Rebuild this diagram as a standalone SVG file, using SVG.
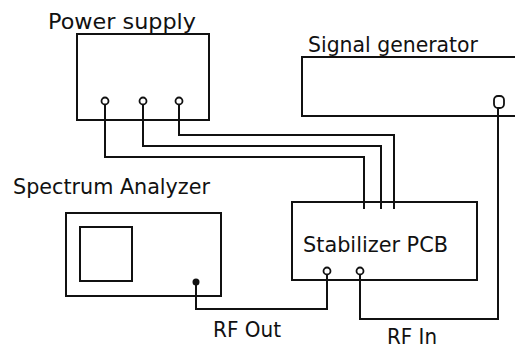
<svg xmlns="http://www.w3.org/2000/svg" width="515" height="349" viewBox="0 0 515 349">
<style>
.box{fill:none;stroke:#111;stroke-width:2}
.w{fill:none;stroke:#111;stroke-width:2}
.t{fill:none;stroke:#111;stroke-width:1.8}
.lbl{font-family:"DejaVu Sans",sans-serif;font-size:22px;fill:#111}
</style>
<rect width="515" height="349" fill="#fff"/>
<g id="connectors">
<polyline class="w" points="105,104 105,157 364,157 364,209"/>
<polyline class="w" points="143,104 143,146 381,146 381,209"/>
<polyline class="w" points="179,104 179,135 394,135 394,209"/>
<polyline class="w" points="196,282 196,309 327,309 327,274"/>
<polyline class="w" points="360,274 360,319 498,319 498,107"/>
<text class="lbl" x="213" y="337" textLength="68" lengthAdjust="spacingAndGlyphs">RF Out</text>
<text class="lbl" x="387" y="344" font-size="21" textLength="50" lengthAdjust="spacingAndGlyphs">RF In</text>
</g>
<g id="power-supply">
<rect class="box" x="77" y="34" width="132" height="86"/>
<circle class="t" cx="105" cy="101" r="3.5"/>
<circle class="t" cx="143" cy="101" r="3.5"/>
<circle class="t" cx="179" cy="101" r="3.5"/>
<text class="lbl" x="48" y="29" textLength="148" lengthAdjust="spacingAndGlyphs">Power supply</text>
</g>
<g id="signal-generator">
<rect class="box" x="302" y="57" width="220" height="59"/>
<rect class="t" x="494" y="96" width="10" height="12" rx="4"/>
<text class="lbl" x="308" y="52" textLength="170" lengthAdjust="spacingAndGlyphs">Signal generator</text>
</g>
<g id="spectrum-analyzer">
<rect class="box" x="66" y="213" width="155" height="83"/>
<rect class="box" x="80" y="227" width="52" height="54"/>
<circle cx="196" cy="282" r="3.5" fill="#111"/>
<text class="lbl" x="13" y="194" textLength="197" lengthAdjust="spacingAndGlyphs">Spectrum Analyzer</text>
</g>
<g id="stabilizer-pcb">
<rect class="box" x="292" y="202" width="185" height="78"/>
<circle class="t" cx="327" cy="271" r="3.5"/>
<circle class="t" cx="360" cy="271" r="3.5"/>
<text class="lbl" x="303" y="252" textLength="145" lengthAdjust="spacingAndGlyphs">Stabilizer PCB</text>
</g>
</svg>
